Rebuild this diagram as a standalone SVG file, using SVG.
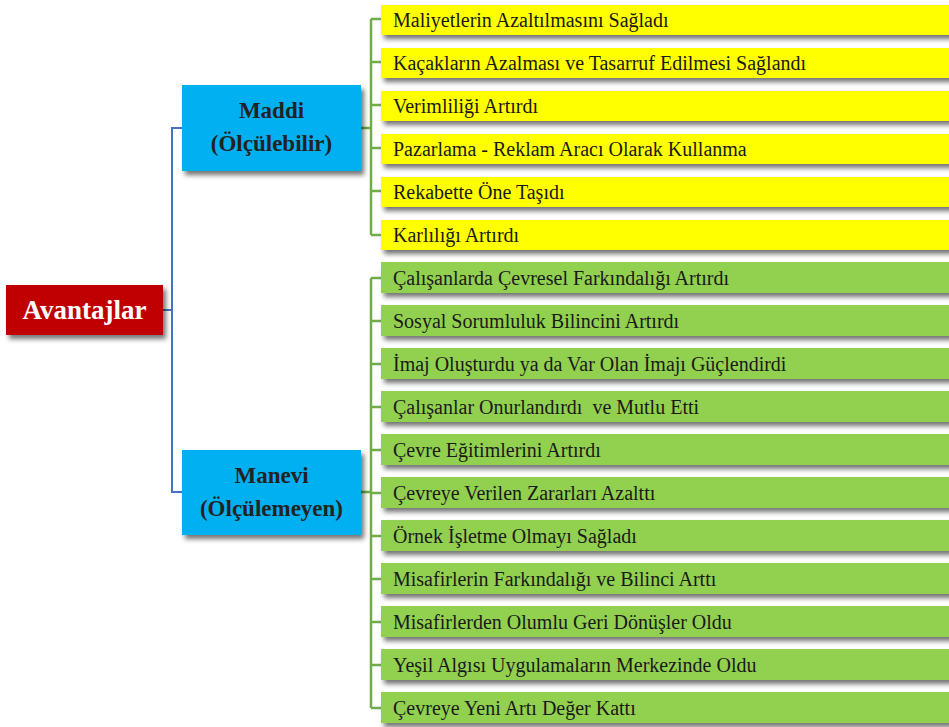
<svg xmlns="http://www.w3.org/2000/svg" width="949" height="727" viewBox="0 0 949 727">
<defs>
<filter id="sh" x="-10%" y="-30%" width="130%" height="180%">
<feDropShadow dx="3" dy="4" stdDeviation="2.5" flood-color="#000" flood-opacity="0.55"/>
</filter>
<style>
text{font-family:"Liberation Serif",Tinos,"Times New Roman","DejaVu Serif",serif}
.item{font-size:20px;fill:#1a1a1a}
.head{font-size:23px;font-weight:bold;fill:#222;text-anchor:middle}
.yel{fill:#FFFF00;filter:url(#sh)}
.grn{fill:#92D050;filter:url(#sh)}
.blu{fill:#00B0F0;filter:url(#sh)}
.bl{stroke:#4472C4;stroke-width:2;fill:none}
.gl{stroke:#70AD47;stroke-width:2.5;fill:none}
</style>
</defs>
<rect width="949" height="727" fill="#fff"/>
<g id="connectors">
<path class="bl" d="M163 310H172M182 128H172V492H182"/>
<path class="gl" d="M361 128H371M371 19V235M371 19H381M371 62H381M371 105H381M371 148H381M371 191H381M371 235H381"/>
<path class="gl" d="M361 492H371M371 278V708M371 278H381M371 321H381M371 364H381M371 407H381M371 450H381M371 493H381M371 536H381M371 579H381M371 622H381M371 665H381M371 708H381"/>
</g>
<g id="root">
<rect x="6" y="285" width="157" height="50" fill="#C00000" filter="url(#sh)"/>
<text x="84.5" y="319" font-size="27" font-weight="bold" fill="#fff" text-anchor="middle">Avantajlar</text>
</g>
<g id="maddi">
<rect class="blu" x="182" y="85" width="179" height="86"/>
<text class="head" x="271.5" y="118">Maddi</text>
<text class="head" x="271.5" y="151">(Ölçülebilir)</text>
</g>
<g id="manevi">
<rect class="blu" x="182" y="450" width="179" height="85"/>
<text class="head" x="271.5" y="483">Manevi</text>
<text class="head" x="271.5" y="516">(Ölçülemeyen)</text>
</g>
<g id="m1"><rect class="yel" x="381" y="5" width="580" height="30"/><text class="item" x="393" y="27">Maliyetlerin Azaltılmasını Sağladı</text></g>
<g id="m2"><rect class="yel" x="381" y="48" width="580" height="30"/><text class="item" x="393" y="70">Kaçakların Azalması ve Tasarruf Edilmesi Sağlandı</text></g>
<g id="m3"><rect class="yel" x="381" y="91" width="580" height="30"/><text class="item" x="393" y="113">Verimliliği Artırdı</text></g>
<g id="m4"><rect class="yel" x="381" y="134" width="580" height="30"/><text class="item" x="393" y="156">Pazarlama - Reklam Aracı Olarak Kullanma</text></g>
<g id="m5"><rect class="yel" x="381" y="177" width="580" height="30"/><text class="item" x="393" y="199">Rekabette Öne Taşıdı</text></g>
<g id="m6"><rect class="yel" x="381" y="220" width="580" height="30"/><text class="item" x="393" y="242">Karlılığı Artırdı</text></g>
<g id="v1"><rect class="grn" x="381" y="262" width="580" height="31"/><text class="item" x="393" y="285">Çalışanlarda Çevresel Farkındalığı Artırdı</text></g>
<g id="v2"><rect class="grn" x="381" y="305" width="580" height="31"/><text class="item" x="393" y="328">Sosyal Sorumluluk Bilincini Artırdı</text></g>
<g id="v3"><rect class="grn" x="381" y="348" width="580" height="31"/><text class="item" x="393" y="371">İmaj Oluşturdu ya da Var Olan İmajı Güçlendirdi</text></g>
<g id="v4"><rect class="grn" x="381" y="391" width="580" height="31"/><text class="item" x="393" y="414" xml:space="preserve">Çalışanlar Onurlandırdı  ve Mutlu Etti</text></g>
<g id="v5"><rect class="grn" x="381" y="434" width="580" height="31"/><text class="item" x="393" y="457">Çevre Eğitimlerini Artırdı</text></g>
<g id="v6"><rect class="grn" x="381" y="477" width="580" height="31"/><text class="item" x="393" y="500">Çevreye Verilen Zararları Azalttı</text></g>
<g id="v7"><rect class="grn" x="381" y="520" width="580" height="31"/><text class="item" x="393" y="543">Örnek İşletme Olmayı Sağladı</text></g>
<g id="v8"><rect class="grn" x="381" y="563" width="580" height="31"/><text class="item" x="393" y="586">Misafirlerin Farkındalığı ve Bilinci Arttı</text></g>
<g id="v9"><rect class="grn" x="381" y="606" width="580" height="31"/><text class="item" x="393" y="629">Misafirlerden Olumlu Geri Dönüşler Oldu</text></g>
<g id="v10"><rect class="grn" x="381" y="649" width="580" height="31"/><text class="item" x="393" y="672">Yeşil Algısı Uygulamaların Merkezinde Oldu</text></g>
<g id="v11"><rect class="grn" x="381" y="692" width="580" height="31"/><text class="item" x="393" y="715">Çevreye Yeni Artı Değer Kattı</text></g>
</svg>
